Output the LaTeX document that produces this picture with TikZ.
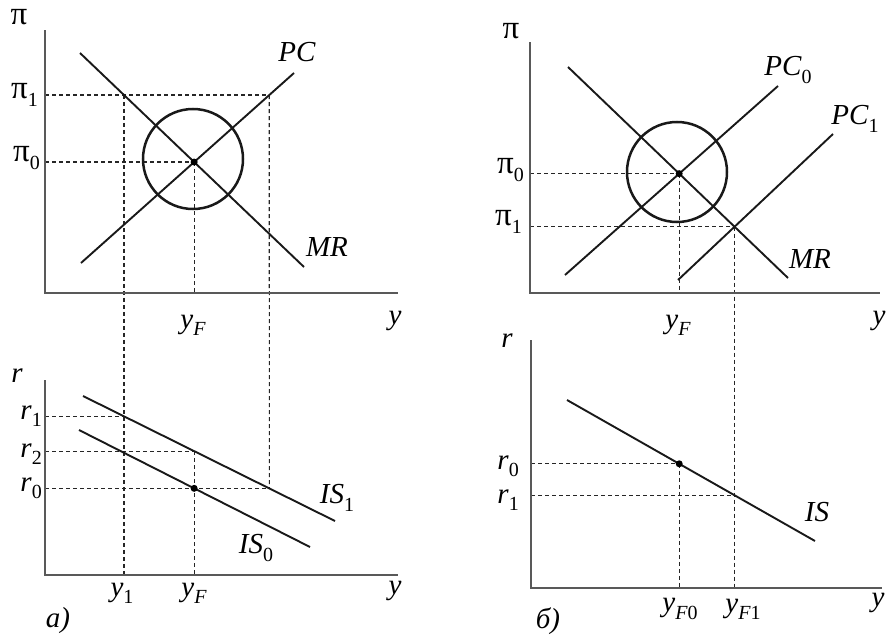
\documentclass[tikz,border=0pt]{standalone}
\usepackage{fontspec}
\setmainfont{Liberation Serif}
\newfontfamily\timesfont{Liberation Serif}
\newcommand\lsub[2]{#1\raisebox{-0.25em}{\fontsize{20}{20}\selectfont #2}}
\newcommand\bigpi{{\fontsize{33}{33}\selectfont π}}
\tikzset{
  axisline/.style={line width=2.2pt, draw=black!65},
  curve/.style={line width=1.9pt, draw=black!90},
  guide/.style={line width=1.2pt, draw=black!85, dash pattern=on 4pt off 3pt},
  ring/.style={line width=2.5pt, draw=black!90},
  lbl/.style={inner sep=0pt, font=\timesfont\fontsize{29}{32}\selectfont},
  dotmark/.style={fill=black, circle, inner sep=0pt, minimum size=7pt}
}
\begin{document}
\begin{tikzpicture}[x=1pt,y=-1pt]
\useasboundingbox (0,0) rectangle (887,637);

% ---------- left top ----------
\coordinate (LTt) at (45,30);
\coordinate (LTo) at (45,293);
\coordinate (LTr) at (398,293);
\coordinate (PCa) at (81,263);
\coordinate (PCb) at (294,73);
\coordinate (MRa) at (80,53);
\coordinate (MRb) at (304,267);
\coordinate (E0) at (intersection of PCa--PCb and MRa--MRb);
\coordinate (H1a) at (45,95);
\coordinate (H1b) at (400,95);
\coordinate (A1) at (intersection of PCa--PCb and H1a--H1b);
\coordinate (B1) at (intersection of MRa--MRb and H1a--H1b);

% ---------- left bottom ----------
\coordinate (LBt) at (45,380);
\coordinate (LBo) at (45,575);
\coordinate (LBr) at (398,575);
\coordinate (ISa) at (83,396);
\coordinate (ISb) at (335,521);
\coordinate (IZa) at (79,430);
\coordinate (IZb) at (310,547);
\coordinate (R1) at (intersection of ISa--ISb and B1--{B1 |- LBo});
\coordinate (R2) at (intersection of ISa--ISb and E0--{E0 |- LBo});
\coordinate (R0) at (intersection of ISa--ISb and A1--{A1 |- LBo});
\coordinate (D0) at (intersection of IZa--IZb and E0--{E0 |- LBo});

% guides left
\draw[guide] (H1a) -- (A1);
\draw[guide] (LTo |- E0) -- (E0);
\draw[guide] (E0) -- (E0 |- LTo);
\draw[guide] (B1) -- (B1 |- LBo);
\draw[guide] (A1) -- (R0);
\draw[guide] (LBo |- R1) -- (R1);
\draw[guide] (LBo |- R2) -- (R2);
\draw[guide] (LBo |- R0) -- (R0);
\draw[guide] (R2) -- (R2 |- LBo);

\draw[curve] (PCa) -- (PCb);
\draw[curve] (MRa) -- (MRb);
\draw[ring] (193,159) circle[radius=50pt];
\node[dotmark] (dotA) at (E0) {};
\draw[curve] (ISa) -- (ISb);
\draw[curve] (IZa) -- (IZb);
\node[dotmark] (dotB) at (D0) {};
\draw[axisline] (LTt) -- (LTo) -- (LTr);
\draw[axisline] (LBt) -- (LBo) -- (LBr);

\node[lbl] (lpi) at (19,17) {\bigpi};
\node[lbl, anchor=east] (lpi1) at (38,95) {\lsub{\bigpi}{1}};
\node[lbl, anchor=east] (lpi0) at (40,158) {\lsub{\bigpi}{0}};
\node[lbl] (lPC) at (297,52) {\textit{PC}};
\node[lbl] (lMR) at (327,247) {\textit{MR}};
\node[lbl] (ly1) at (395,321) {\textit{y}};
\node[lbl] (lyF) at (193,325) {\lsub{\textit{y}}{\textit{F}}};
\node[lbl] (lr) at (17,376) {\textit{r}};
\node[lbl, anchor=east] (lr1) at (42,416) {\lsub{\textit{r}}{1}};
\node[lbl, anchor=east] (lr2) at (42,454) {\lsub{\textit{r}}{2}};
\node[lbl, anchor=east] (lr0) at (42,488) {\lsub{\textit{r}}{0}};
\node[lbl] (lIS1) at (337,498) {\lsub{\textit{IS}}{1}};
\node[lbl] (lIS0) at (256,548) {\lsub{\textit{IS}}{0}};
\node[lbl] (ly1b) at (122,593) {\lsub{\textit{y}}{1}};
\node[lbl] (lyFb) at (194,593) {\lsub{\textit{y}}{\textit{F}}};
\node[lbl] (ly2) at (395,591) {\textit{y}};
\node[lbl] (la) at (58,621) {\textit{а)}};

% ---------- right top ----------
\coordinate (RTt) at (530,42);
\coordinate (RTo) at (530,293);
\coordinate (RTr) at (880,293);
\coordinate (MQa) at (568,67);
\coordinate (MQb) at (788,278);
\coordinate (Pa) at (565,275);
\coordinate (Pb) at (778,86);
\coordinate (Qa) at (678,280);
\coordinate (Qb) at (833,134);
\coordinate (E1) at (intersection of MQa--MQb and Pa--Pb);
\coordinate (E2) at (intersection of MQa--MQb and Qa--Qb);

% ---------- right bottom ----------
\coordinate (RBt) at (531,340);
\coordinate (RBo) at (531,588);
\coordinate (RBr) at (882,588);
\coordinate (Sa) at (567,400);
\coordinate (Sb) at (815,541);
\coordinate (F0) at (intersection of Sa--Sb and E1--{E1 |- RBo});
\coordinate (F1) at (intersection of Sa--Sb and E2--{E2 |- RBo});

\draw[guide] (RTo |- E1) -- (E1);
\draw[guide] (E1) -- (E1 |- RTo);
\draw[guide] (RTo |- E2) -- (E2);
\draw[guide] (E2) -- (E2 |- RBo);
\draw[guide] (RBo |- F0) -- (F0);
\draw[guide] (F0) -- (F0 |- RBo);
\draw[guide] (RBo |- F1) -- (F1);

\draw[curve] (MQa) -- (MQb);
\draw[curve] (Pa) -- (Pb);
\draw[curve] (Qa) -- (Qb);
\draw[ring] (677,172) circle[radius=50pt];
\node[dotmark] (dotC) at (E1) {};
\draw[curve] (Sa) -- (Sb);
\node[dotmark] (dotD) at (F0) {};
\draw[axisline] (RTt) -- (RTo) -- (RTr);
\draw[axisline] (RBt) -- (RBo) -- (RBr);

\node[lbl] (rpi) at (511,31) {\bigpi};
\node[lbl, anchor=east] (rpi0) at (524,170) {\lsub{\bigpi}{0}};
\node[lbl, anchor=east] (rpi1) at (522,222) {\lsub{\bigpi}{1}};
\node[lbl] (rPC0) at (788,70) {\lsub{\textit{PC}}{0}};
\node[lbl] (rPC1) at (855,119) {\lsub{\textit{PC}}{1}};
\node[lbl] (rMR) at (810,259) {\textit{MR}};
\node[lbl] (ry1) at (879,321) {\textit{y}};
\node[lbl] (ryF) at (678,325) {\lsub{\textit{y}}{\textit{F}}};
\node[lbl] (rr) at (507,341) {\textit{r}};
\node[lbl, anchor=east] (rr0) at (519,466) {\lsub{\textit{r}}{0}};
\node[lbl, anchor=east] (rr1) at (519,500) {\lsub{\textit{r}}{1}};
\node[lbl] (rIS) at (817,512) {\textit{IS}};
\node[lbl] (ryF0) at (680,609) {\lsub{\textit{y}}{\textit{F}0}};
\node[lbl] (ryF1) at (743,609) {\lsub{\textit{y}}{\textit{F}1}};
\node[lbl] (ry2) at (878,603) {\textit{y}};
\node[lbl] (rb) at (548,621) {\textit{б)}};
\end{tikzpicture}
\end{document}
